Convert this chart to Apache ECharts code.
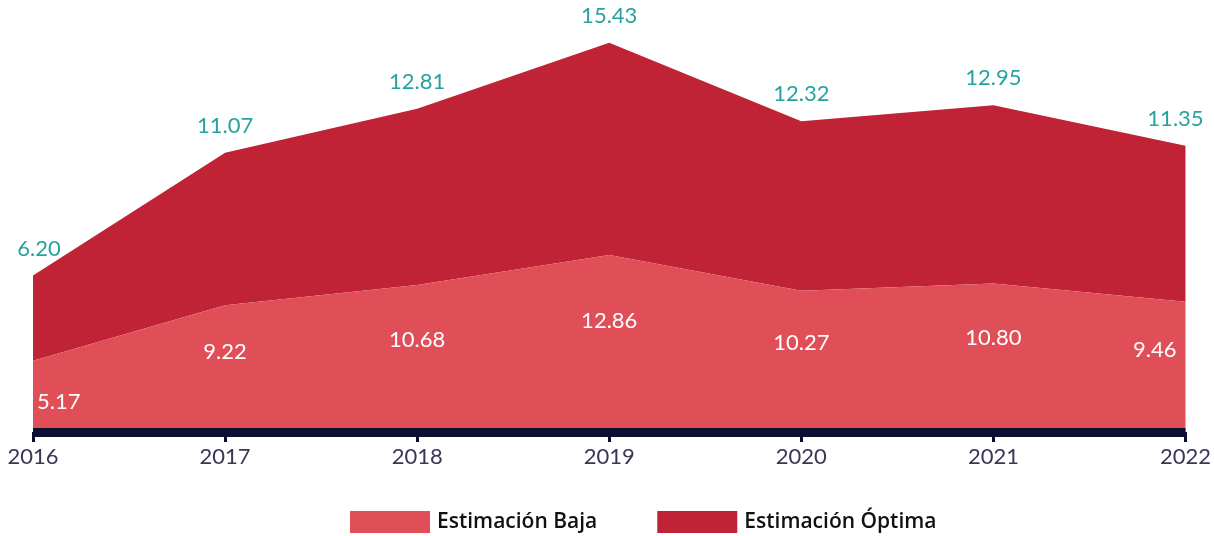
<!DOCTYPE html>
<html>
<head>
<meta charset="utf-8">
<script src="https://cdn.jsdelivr.net/npm/echarts@6/dist/echarts.min.js"></script>
<style>
  html, body { margin: 0; padding: 0; background: #fff; }
  #chart { width: 1214px; height: 536px; }
</style>
</head>
<body>
<div id="chart"></div>
<script>
// datos
const years = ['2016', '2017', '2018', '2019', '2020', '2021', '2022'];
const estimacionBaja = [5.17, 9.22, 10.68, 12.86, 10.27, 10.80, 9.46];
const estimacionOptima = [6.20, 11.07, 12.81, 15.43, 12.32, 12.95, 11.35];

const colorBaja = '#e04f57';
const colorOptima = '#c02335';
const teal = '#26a39e';
const navy = '#0c1033';

const gridTop = 11, gridBottom = 104, yMax = 30.6;
const pxPerUnit = (536 - gridTop - gridBottom) / yMax;
const last = years.length - 1;

// etiquetas blancas dentro del area baja
const bajaData = estimacionBaja.map((v, i) => {
    const frac = i === 0 ? 0.57 : 0.37;
    const label = { offset: [0, frac * v * pxPerUnit] };
    if (i === 0) { label.align = 'left'; label.offset[0] = 4; }
    if (i === last) { label.align = 'right'; label.offset[0] = -9; }
    return { value: v, label: label };
});

const optimaData = estimacionOptima.map((v, i) => {
    const item = { value: v };
    if (i === 0) item.label = { offset: [6, 0] };
    if (i === last) item.label = { offset: [-10, 0] };
    return item;
});

const chart = echarts.init(document.getElementById('chart'));

chart.setOption({
    animation: false,
    grid: { left: 33, right: 28, top: gridTop, bottom: gridBottom },
    legend: {
        left: 345,
        top: 506,
        itemWidth: 80,
        itemHeight: 22,
        itemGap: 60,
        icon: 'rect',
        textStyle: { fontFamily: 'Open Sans', fontSize: 21, fontWeight: 600, color: '#111111', padding: [0, 0, 0, 2] },
        data: [
            { name: 'Estimación Baja', itemStyle: { color: colorBaja } },
            { name: 'Estimación Óptima', itemStyle: { color: colorOptima } }
        ]
    },
    xAxis: {
        type: 'category',
        data: years,
        boundaryGap: false,
        z: 10,
        axisLine: { lineStyle: { color: navy, width: 9, cap: 'butt' } },
        axisTick: { show: true, length: 10, lineStyle: { color: navy, width: 3 } },
        axisLabel: { fontFamily: 'Lato', fontSize: 22, color: '#3b3556', margin: 14 }
    },
    yAxis: {
        type: 'value',
        min: 0,
        max: yMax,
        show: false,
        splitLine: { show: false }
    },
    series: [
        {
            name: 'Estimación Baja',
            type: 'line',
            stack: 'total',
            data: bajaData,
            symbol: 'circle',
            symbolSize: 0.1,
            itemStyle: { color: colorBaja },
            lineStyle: { width: 0 },
            areaStyle: { color: colorBaja, opacity: 1 },
            label: {
                show: true,
                position: 'inside',
                color: '#ffffff',
                fontFamily: 'Lato',
                fontSize: 22,
                formatter: p => p.value.toFixed(2)
            },
            z: 3
        },
        {
            name: 'Estimación Óptima',
            type: 'line',
            stack: 'total',
            data: optimaData,
            symbol: 'circle',
            symbolSize: 0.1,
            itemStyle: { color: colorOptima },
            lineStyle: { width: 0 },
            areaStyle: { color: colorOptima, opacity: 1 },
            label: {
                show: true,
                position: 'top',
                distance: 16,
                color: teal,
                fontFamily: 'Lato',
                fontSize: 22,
                formatter: p => p.value.toFixed(2)
            },
            z: 2
        }
    ]
});
</script>
</body>
</html>
